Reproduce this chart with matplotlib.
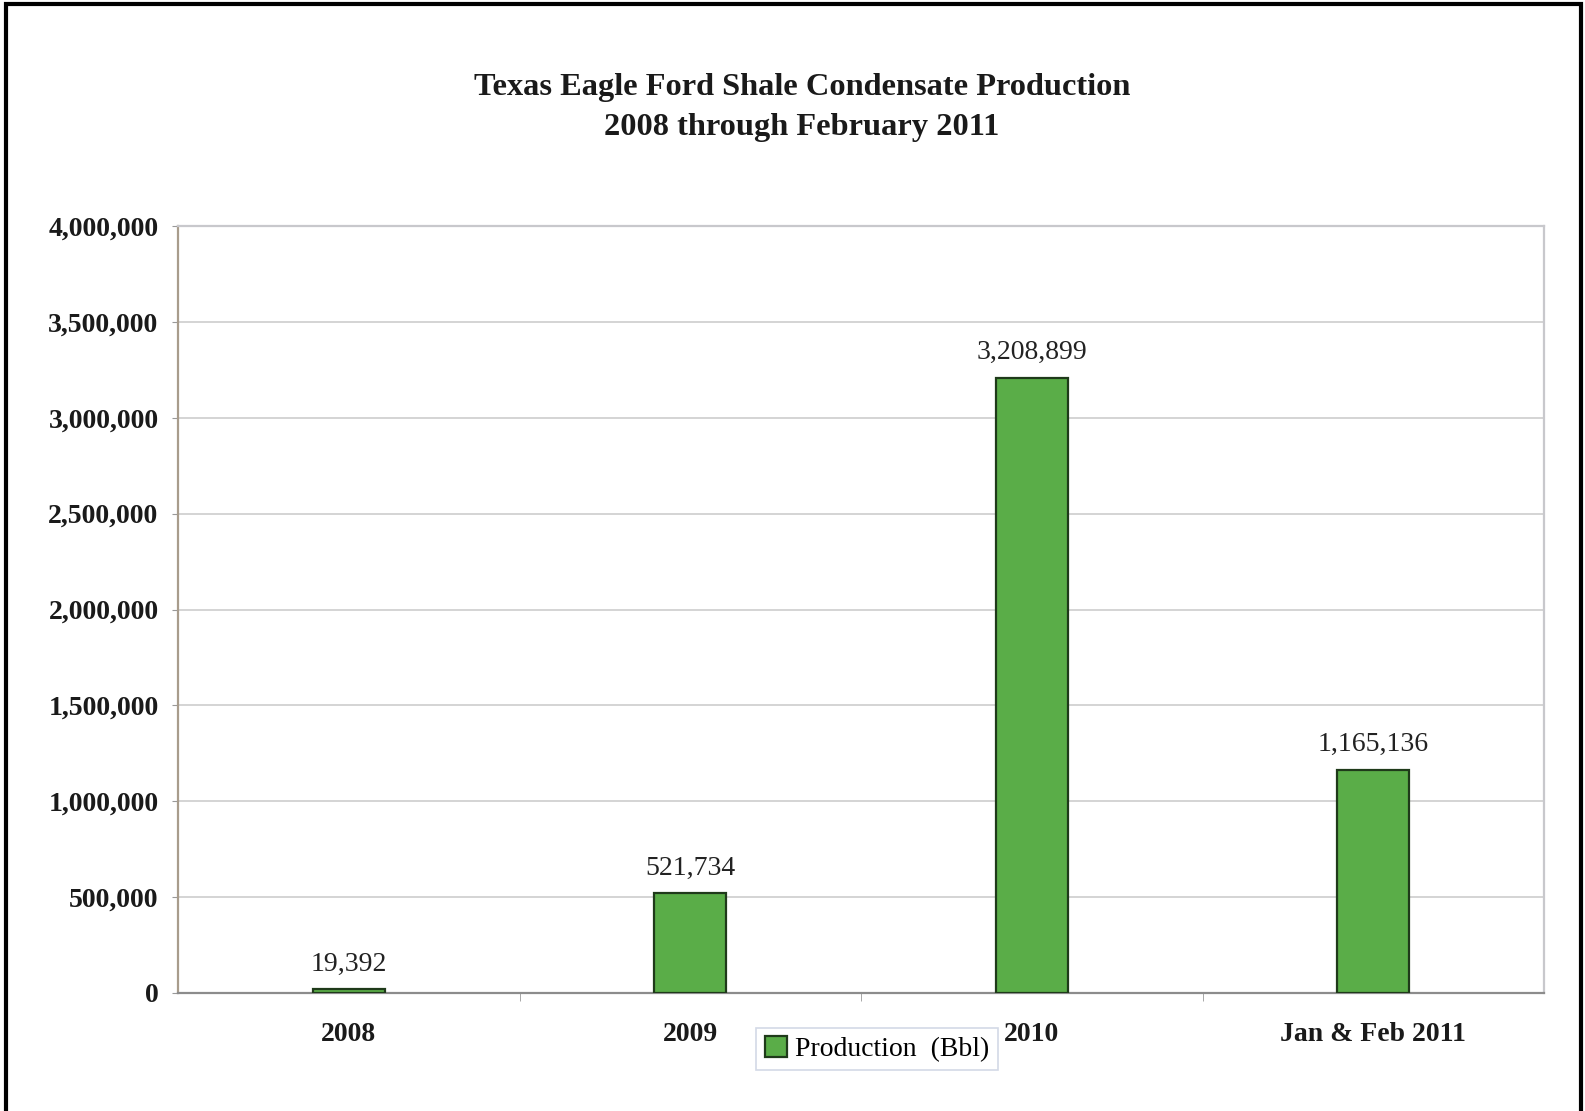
import matplotlib.pyplot as plt
from matplotlib.patches import Rectangle
from matplotlib.ticker import FuncFormatter

periods = ['2008', '2009', '2010', 'Jan & Feb 2011']
production = [19392, 521734, 3208899, 1165136]
y_ticks = [0, 500000, 1000000, 1500000, 2000000, 2500000, 3000000, 3500000, 4000000]

plt.rcParams['font.family'] = ['Liberation Serif', 'DejaVu Serif']

fig = plt.figure(figsize=(15.85, 11.11), dpi=100)
ax = fig.add_axes([178 / 1585, 1 - 993 / 1111, (1544 - 178) / 1585, (993 - 226) / 1111])

# frame around the whole chart (bottom edge runs off the page)
fig.patches.append(Rectangle((6 / 1585, -0.01), (1581 - 6) / 1585, (1111 - 4) / 1111 + 0.01,
                             transform=fig.transFigure, fill=False, edgecolor='black', linewidth=3))

x = list(range(len(periods)))
bars = ax.bar(x, production, width=0.21, color='#5aad48', edgecolor='#1f3a1a', linewidth=1.6,
              label='Production  (Bbl)', zorder=3)

for xi, v in zip(x, production):
    ax.text(xi, v + 65000, f'{v:,}', ha='center', va='bottom', fontsize=20, color='#222222')

ax.set_xlim(-0.5, len(periods) - 0.5)
ax.set_ylim(0, 4000000)
ax.set_yticks(y_ticks)
ax.yaxis.set_major_formatter(FuncFormatter(lambda v, p: f'{int(v):,}'))
ax.set_xticks(x)
ax.set_xticklabels(periods)
ax.set_xticks([0.5, 1.5, 2.5], minor=True)
ax.tick_params(axis='x', which='major', length=0, pad=21)
ax.tick_params(axis='x', which='minor', length=6, color='#999999')
ax.tick_params(axis='y', length=4, color='#999999', pad=10)
for lbl in ax.get_xticklabels() + ax.get_yticklabels():
    lbl.set_fontweight('bold')
    lbl.set_fontsize(20)
    lbl.set_color('#1a1a1a')

ax.grid(axis='y', color='#d4d4d4', linewidth=1.4, zorder=0)
for side in ['top', 'right']:
    ax.spines[side].set_color('#c8c8cc')
    ax.spines[side].set_linewidth(1.6)
ax.spines['left'].set_color('#a89c8c')
ax.spines['bottom'].set_color('#8c8c8c')
ax.spines['left'].set_linewidth(1.6)
ax.spines['bottom'].set_linewidth(1.6)

title_x = 802 / 1585
fig.text(title_x, 1 - 87 / 1111, 'Texas Eagle Ford Shale Condensate Production', ha='center', va='center',
         fontsize=23.3, fontweight='bold', color='#1a1a1a')
fig.text(title_x, 1 - 127 / 1111, '2008 through February 2011', ha='center', va='center',
         fontsize=23.3, fontweight='bold', color='#1a1a1a')

leg = fig.legend(handles=[bars], labels=['Production  (Bbl)'], loc='center',
                 bbox_to_anchor=(877 / 1585, 1 - 1049 / 1111), fontsize=20, frameon=True,
                 fancybox=False, handlelength=0.8, handleheight=0.8, handletextpad=0.3,
                 borderpad=0.3, borderaxespad=0)
leg.get_frame().set_edgecolor('#c8d0e0')
leg.get_frame().set_linewidth(1.2)

fig.savefig('out.png', dpi=100, facecolor='white')
